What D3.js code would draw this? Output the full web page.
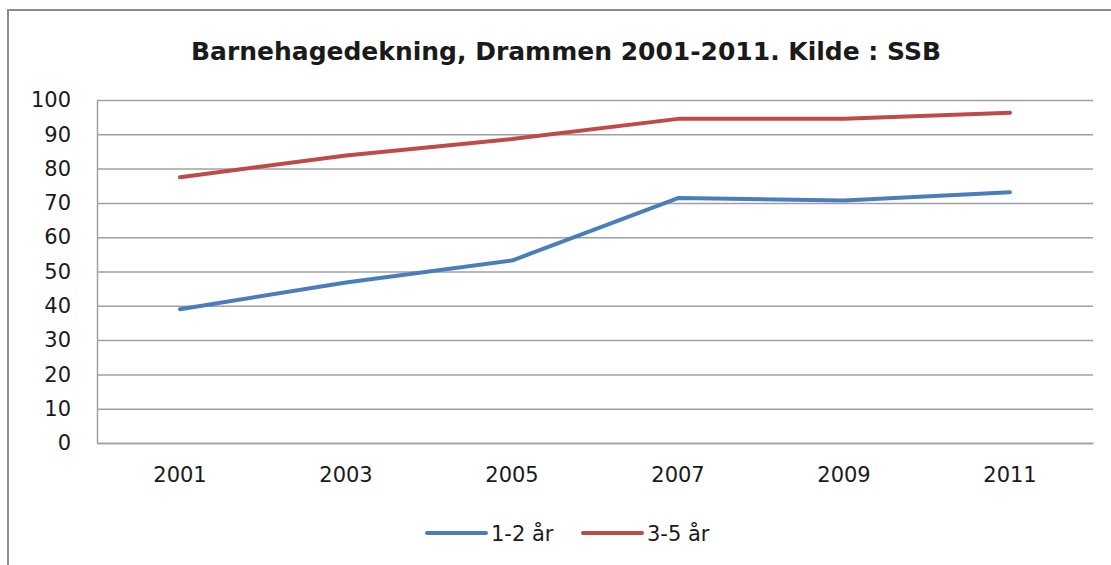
<!DOCTYPE html>
<html>
<head>
<meta charset="utf-8">
<script src="https://cdn.jsdelivr.net/npm/d3@7"></script>
<style>
  html, body { margin: 0; padding: 0; background: white; overflow: hidden; }
  svg { display: block; }
</style>
</head>
<body>
<div id="chart"></div>
<script>
const years = ["2001", "2003", "2005", "2007", "2009", "2011"];
const age12 = [39.0, 46.8, 53.2, 71.4, 70.7, 73.1];
const age35 = [77.5, 83.8, 88.6, 94.5, 94.5, 96.3];
const yTicks = [0, 10, 20, 30, 40, 50, 60, 70, 80, 90, 100];
const seriesNames = ["1-2 år", "3-5 år"];
const seriesColors = ["#4a7ebb", "#be4b48"];

const width = 1111;
const height = 565;
const margin = { top: 100, right: 18, bottom: 122, left: 97 };
const font = "'DejaVu Sans', sans-serif";
const textColor = "#1a1a1a";
const gridColor = "#a0a0a0";

const svg = d3.select("#chart").append("svg")
  .attr("width", width)
  .attr("height", height);

// outer chart frame (runs off the right and bottom edges)
svg.append("rect")
  .attr("x", 8).attr("y", 10)
  .attr("width", width + 20).attr("height", height + 20)
  .attr("fill", "white")
  .attr("stroke", "#8c8c8c")
  .attr("stroke-width", 2);

svg.append("text")
  .attr("x", 566)
  .attr("y", 60)
  .attr("text-anchor", "middle")
  .attr("textLength", 750)
  .attr("lengthAdjust", "spacingAndGlyphs")
  .style("font-family", font)
  .style("font-weight", "bold")
  .style("font-size", "24px")
  .style("fill", textColor)
  .text("Barnehagedekning, Drammen 2001-2011. Kilde : SSB");

const x = d3.scaleBand()
  .domain(years)
  .range([margin.left, width - margin.right]);

const y = d3.scaleLinear()
  .domain([0, 100])
  .range([height - margin.bottom, margin.top]);

// gridlines
svg.append("g")
  .attr("transform", `translate(${margin.left},0)`)
  .call(d3.axisLeft(y).tickValues(yTicks).tickSize(-(width - margin.left - margin.right)).tickFormat(""))
  .call(g => g.select(".domain").remove())
  .call(g => g.selectAll("line").attr("stroke", gridColor).attr("stroke-width", 1.5));

// y axis
svg.append("g")
  .attr("transform", `translate(${margin.left},0)`)
  .call(d3.axisLeft(y).tickValues(yTicks).tickSize(0).tickPadding(26))
  .call(g => g.select(".domain").attr("stroke", gridColor).attr("stroke-width", 1.5))
  .call(g => g.selectAll("text")
    .style("font-family", font)
    .style("font-size", "21px")
    .style("fill", textColor));

// x axis
svg.append("g")
  .attr("transform", `translate(0,${height - margin.bottom})`)
  .call(d3.axisBottom(x).tickSize(0).tickPadding(24))
  .call(g => g.select(".domain").attr("stroke", gridColor).attr("stroke-width", 1.5))
  .call(g => g.selectAll("text")
    .style("font-family", font)
    .style("font-size", "21px")
    .style("fill", textColor));

const line = d3.line()
  .x((d, i) => x(years[i]) + x.bandwidth() / 2)
  .y(d => y(d));

[age12, age35].forEach((vals, i) => {
  svg.append("path")
    .datum(vals)
    .attr("d", line)
    .attr("fill", "none")
    .attr("stroke", seriesColors[i])
    .attr("stroke-width", 4)
    .attr("stroke-linecap", "round")
    .attr("stroke-linejoin", "round");
});

// legend
const legendX = [427, 583];
const legend = svg.append("g");
seriesNames.forEach((name, i) => {
  legend.append("line")
    .attr("x1", legendX[i]).attr("x2", legendX[i] + 59)
    .attr("y1", 533).attr("y2", 533)
    .attr("stroke", seriesColors[i])
    .attr("stroke-width", 4)
    .attr("stroke-linecap", "round");
  legend.append("text")
    .attr("x", legendX[i] + 64)
    .attr("y", 541)
    .style("font-family", font)
    .style("font-size", "21px")
    .style("fill", textColor)
    .text(name);
});
</script>
</body>
</html>
